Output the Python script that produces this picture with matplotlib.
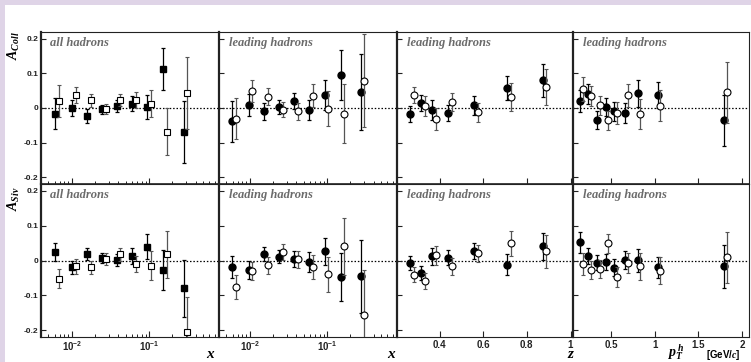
import numpy as np
import matplotlib.pyplot as plt
from matplotlib.ticker import LogLocator, NullFormatter
from matplotlib.patches import Rectangle

plt.rcParams['mathtext.fontset'] = 'custom'
plt.rcParams['mathtext.rm'] = 'Liberation Sans:bold'
plt.rcParams['mathtext.it'] = 'Liberation Serif:italic:bold'
plt.rcParams['mathtext.bf'] = 'Liberation Sans:bold'

# ---- data ----
# all hadrons vs x (filled / open squares)
x_all_f = [0.0061, 0.0100, 0.0155, 0.0243, 0.038, 0.0596, 0.093, 0.153, 0.28]
x_all_o = [0.0068, 0.0114, 0.0177, 0.0277, 0.0424, 0.067, 0.106, 0.17, 0.31]
coll_all_f = [-0.016, 0.000, -0.023, -0.004, 0.005, 0.013, 0.003, 0.113, -0.070]
coll_all_f_err = [0.046, 0.023, 0.019, 0.012, 0.017, 0.022, 0.035, 0.061, 0.089]
coll_all_o = [0.020, 0.037, 0.022, -0.002, 0.023, 0.023, 0.013, -0.069, 0.043]
coll_all_o_err = [0.046, 0.023, 0.019, 0.014, 0.017, 0.023, 0.040, 0.068, 0.104]
siv_all_f = [0.025, -0.020, 0.018, 0.008, 0.002, 0.012, 0.039, -0.027, -0.080]
siv_all_f_err = [0.025, 0.019, 0.017, 0.015, 0.018, 0.023, 0.036, 0.057, 0.082]
siv_all_o = [-0.052, -0.017, -0.019, 0.004, 0.018, -0.010, -0.015, 0.018, -0.205]
siv_all_o_err = [0.028, 0.021, 0.019, 0.018, 0.018, 0.022, 0.042, 0.067, 0.100]

# leading hadrons vs x (filled / open circles)
x_lead_f = [0.0059, 0.0099, 0.0152, 0.0236, 0.037, 0.058, 0.093, 0.151, 0.274]
x_lead_o = [0.0067, 0.0108, 0.0171, 0.027, 0.0417, 0.066, 0.103, 0.165, 0.30]
coll_x_f = [-0.039, 0.009, -0.010, 0.003, 0.019, -0.006, 0.037, 0.096, 0.046]
coll_x_f_err = [0.058, 0.032, 0.024, 0.020, 0.023, 0.030, 0.043, 0.072, 0.111]
coll_x_o = [-0.031, 0.050, 0.033, -0.005, -0.010, 0.036, -0.002, -0.016, 0.079]
coll_x_o_err = [0.059, 0.032, 0.025, 0.022, 0.024, 0.033, 0.050, 0.085, 0.135]
siv_x_f = [-0.019, -0.026, 0.019, 0.011, 0.005, -0.004, 0.026, -0.047, -0.045]
siv_x_f_err = [0.032, 0.026, 0.020, 0.018, 0.023, 0.029, 0.040, 0.069, 0.105]
siv_x_o = [-0.076, -0.030, -0.014, 0.025, 0.003, -0.019, -0.040, 0.041, -0.156]
siv_x_o_err = [0.034, 0.027, 0.024, 0.023, 0.025, 0.034, 0.050, 0.082, 0.130]

# leading hadrons vs z
z_f = [0.264, 0.316, 0.367, 0.437, 0.559, 0.708, 0.873]
z_o = [0.282, 0.333, 0.382, 0.455, 0.574, 0.726, 0.888]
coll_z_f = [-0.017, 0.014, -0.006, -0.015, 0.008, 0.059, 0.080]
coll_z_f_err = [0.023, 0.024, 0.030, 0.023, 0.027, 0.035, 0.047]
coll_z_o = [0.038, 0.006, -0.033, 0.016, -0.013, 0.031, 0.061]
coll_z_o_err = [0.024, 0.028, 0.032, 0.026, 0.028, 0.041, 0.052]
siv_z_f = [-0.007, -0.037, 0.012, 0.008, 0.026, -0.012, 0.041]
siv_z_f_err = [0.021, 0.020, 0.024, 0.022, 0.023, 0.030, 0.039]
siv_z_o = [-0.041, -0.059, 0.015, -0.017, 0.021, 0.049, 0.026]
siv_z_o_err = [0.021, 0.022, 0.028, 0.024, 0.024, 0.035, 0.048]

# leading hadrons vs pT
pt_f = [0.142, 0.238, 0.339, 0.439, 0.531, 0.654, 0.803, 1.034, 1.795]
pt_o = [0.173, 0.273, 0.369, 0.469, 0.566, 0.688, 0.834, 1.061, 1.823]
coll_pt_f = [0.021, 0.041, -0.034, 0.004, -0.010, -0.015, 0.043, 0.037, -0.036]
coll_pt_f_err = [0.032, 0.028, 0.026, 0.026, 0.027, 0.029, 0.039, 0.038, 0.075]
coll_pt_o = [0.055, 0.036, 0.008, -0.036, -0.014, 0.037, -0.018, 0.007, 0.045]
coll_pt_o_err = [0.036, 0.029, 0.028, 0.027, 0.031, 0.033, 0.043, 0.044, 0.088]
siv_pt_f = [0.052, 0.013, -0.006, -0.004, -0.021, 0.001, 0.001, -0.020, -0.017]
siv_pt_f_err = [0.030, 0.023, 0.022, 0.023, 0.025, 0.026, 0.033, 0.031, 0.062]
siv_pt_o = [-0.010, -0.027, -0.025, 0.049, -0.048, -0.006, -0.017, -0.029, 0.009]
siv_pt_o_err = [0.032, 0.025, 0.026, 0.028, 0.029, 0.029, 0.039, 0.039, 0.074]

panel_labels = ['all hadrons', 'leading hadrons', 'leading hadrons', 'leading hadrons']
ytick_vals = [-0.2, -0.1, 0, 0.1, 0.2]
ytick_text = ['-0.2', '-0.1', '0', '0.1', '0.2']

# (x filled, x open, marker, [(row vals)...])
panels = [
    (x_all_f, x_all_o, 's',
     [(coll_all_f, coll_all_f_err, coll_all_o, coll_all_o_err),
      (siv_all_f, siv_all_f_err, siv_all_o, siv_all_o_err)]),
    (x_lead_f, x_lead_o, 'o',
     [(coll_x_f, coll_x_f_err, coll_x_o, coll_x_o_err),
      (siv_x_f, siv_x_f_err, siv_x_o, siv_x_o_err)]),
    (z_f, z_o, 'o',
     [(coll_z_f, coll_z_f_err, coll_z_o, coll_z_o_err),
      (siv_z_f, siv_z_f_err, siv_z_o, siv_z_o_err)]),
    (pt_f, pt_o, 'o',
     [(coll_pt_f, coll_pt_f_err, coll_pt_o, coll_pt_o_err),
      (siv_pt_f, siv_pt_f_err, siv_pt_o, siv_pt_o_err)]),
]

W, H = 751, 362
fig = plt.figure(figsize=(W / 100, H / 100), dpi=100)
fig.patch.set_facecolor('#dfd4e7')
fig.add_artist(Rectangle((5 / W, 0), 1, 1 - 5 / H, transform=fig.transFigure,
                         facecolor='white', edgecolor='none', zorder=0))

col_l = [41, 219, 397, 572.7]
col_r = [219, 397, 572.7, 749]
row_t = [32, 184]
row_b = [184, 337]
tick_font = dict(fontfamily='Liberation Sans', fontweight='bold')

for c, (xf, xo, mk, rows) in enumerate(panels):
    for r, (yf, ef, yo, eo) in enumerate(rows):
        ax = fig.add_axes([col_l[c] / W, 1 - row_b[r] / H,
                           (col_r[c] - col_l[c]) / W, (row_b[r] - row_t[r]) / H])
        ax.set_facecolor('none')
        ax.axhline(0, color='black', ls=(0, (1.2, 1.5)), lw=0.9, zorder=1)
        ax.errorbar(xf, yf, yerr=ef, fmt=mk, ms=5, mfc='black', mec='black',
                    ecolor='black', elinewidth=0.9, capsize=1.6, capthick=0.9, zorder=3)
        ax.errorbar(xo, yo, yerr=eo, fmt=mk, ms=5, mfc='white', mec='black',
                    mew=0.8, ecolor='#555555', elinewidth=0.9, capsize=1.6,
                    capthick=0.9, zorder=4)
        ax.set_ylim(-0.22, 0.22)
        ax.set_yticks(ytick_vals)
        if c < 2:
            ax.set_xscale('log')
            ax.set_xlim(0.004, 0.8)
            ax.set_xticks([0.01, 0.1])
            ax.set_xticklabels([r'$10^{-2}$', r'$10^{-1}$'], fontsize=7, **tick_font)
            ax.xaxis.set_minor_locator(LogLocator(base=10, subs=np.arange(2, 10)))
            ax.xaxis.set_minor_formatter(NullFormatter())
        elif c == 2:
            ax.set_xlim(0.205, 1.01)
            ax.set_xticks([0.4, 0.6, 0.8, 1.0])
            ax.set_xticklabels(['0.4', '0.6', '0.8', '1'], fontsize=7, **tick_font)
        else:
            ax.set_xlim(0.06, 2.08)
            ax.set_xticks([0.5, 1.0, 1.5, 2.0])
            ax.set_xticklabels(['0.5', '1', '1.5', '2'], fontsize=7, **tick_font)
        if c == 0:
            ax.set_yticklabels(ytick_text, fontsize=6, **tick_font)
        ax.tick_params(axis='both', which='both', direction='in', top=False,
                       right=False, colors='#222222')
        ax.tick_params(axis='y', length=3.5, width=0.8, pad=2,
                       labelleft=(c == 0))
        ax.tick_params(axis='x', which='major', length=4, width=0.8, pad=2,
                       labelbottom=(r == 1))
        ax.tick_params(axis='x', which='minor', length=2, width=0.7)
        for s in ax.spines.values():
            s.set_color('#222222')
            s.set_linewidth(0.8)
        ax.spines['left'].set_linewidth(1.6)
        ax.spines['right'].set_visible(c == 3)
        if r == 0:
            ax.spines['bottom'].set_linewidth(1.2)
        ax.text(0.05 if c == 0 else 0.056, 0.925, panel_labels[c],
                transform=ax.transAxes, ha='left', va='center', color='#6b6b6b',
                fontsize=9, fontfamily='Liberation Serif', fontweight='bold',
                fontstyle='italic')

# axis titles
fig.text(14 / W, 1 - 31 / H, r'$A_{Coll}$', rotation=90, ha='center', va='top',
         fontsize=10)
fig.text(14 / W, 1 - 187 / H, r'$A_{Siv}$', rotation=90, ha='center', va='top',
         fontsize=10)
for xp, lab in [(210, 'x'), (391, 'x'), (570, 'z')]:
    fig.text(xp / W, 1 - 355 / H, lab, ha='center', va='center', fontsize=11,
             fontfamily='Liberation Serif', fontweight='bold', fontstyle='italic')
fig.text(676 / W, 1 - 356 / H, r'$p_{T}^{\,h}$', ha='center', va='baseline',
         fontsize=10)
fig.text(741 / W, 1 - 358.5 / H, r'[GeV/$c$]', ha='right', va='baseline',
         fontsize=7, fontfamily='Liberation Sans', fontweight='bold')

fig.savefig('out.png', dpi=100, facecolor=fig.get_facecolor())
